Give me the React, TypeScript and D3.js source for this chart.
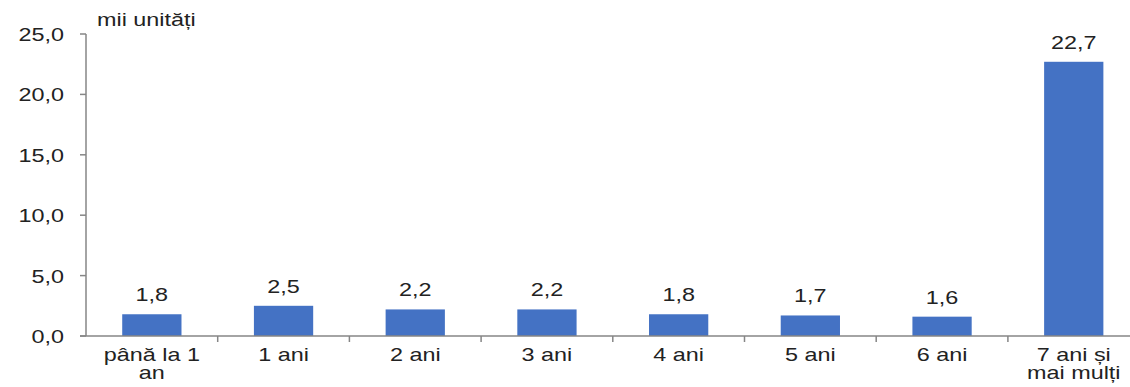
import React from "react";
import * as d3 from "d3";

const categories: string[][] = [
  ["până la 1", "an"],
  ["1 ani"],
  ["2 ani"],
  ["3 ani"],
  ["4 ani"],
  ["5 ani"],
  ["6 ani"],
  ["7 ani și", "mai mulți"],
];
const values: number[] = [1.8, 2.5, 2.2, 2.2, 1.8, 1.7, 1.6, 22.7];
const yTicks: number[] = [0, 5, 10, 15, 20, 25];
const unitLabel = "mii unități";

const W = 1130;
const H = 387;
const left = 86;
const step = 131.7;
const top = 34;
const bottom = 336;
const SX = 1.3;
const FONT = "Liberation Sans, Arial, sans-serif";
const FS = 18;

const fmt = (v: number) => v.toFixed(1).replace(".", ",");

function T({ x, y, anchor, children }: { x: number; y: number; anchor: string; children: React.ReactNode }) {
  return (
    <text
      transform={`translate(${x},${y}) scale(${SX},1)`}
      textAnchor={anchor}
      fontFamily={FONT}
      fontSize={FS}
      fill="#222"
    >
      {children}
    </text>
  );
}

export default function App() {
  const x = d3
    .scaleBand<number>()
    .domain(values.map((_, i) => i))
    .range([left, left + step * values.length])
    .paddingInner(0.55)
    .paddingOuter(0.275);
  const y = d3.scaleLinear().domain([0, 25]).range([bottom, top]);
  const axisColor = "#868686";

  return (
    <svg
      width={W}
      height={H}
      style={{ position: "absolute", left: 0, top: 0, background: "#fff" }}
    >
      {values.map((v, i) => (
        <rect
          key={i}
          x={x(i)}
          y={y(v)}
          width={x.bandwidth()}
          height={y(0) - y(v)}
          fill="#4472C4"
        />
      ))}
      {values.map((v, i) => (
        <T key={"l" + i} x={(x(i) as number) + x.bandwidth() / 2} y={y(v) - 13} anchor="middle">
          {fmt(v)}
        </T>
      ))}
      <line x1={left} x2={left} y1={top} y2={bottom} stroke={axisColor} strokeWidth={1.5} />
      <line x1={left - 6} x2={W} y1={bottom} y2={bottom} stroke={axisColor} strokeWidth={1.5} />
      {yTicks.map((t) => (
        <g key={"t" + t}>
          <line x1={left - 6} x2={left} y1={y(t)} y2={y(t)} stroke={axisColor} strokeWidth={1.5} />
          <T x={64} y={y(t) + 7} anchor="end">
            {fmt(t)}
          </T>
        </g>
      ))}
      {values.map((_, i) => (
        <line
          key={"xt" + i}
          x1={left + step * (i + 1)}
          x2={left + step * (i + 1)}
          y1={bottom}
          y2={bottom + 6}
          stroke={axisColor}
          strokeWidth={1.5}
        />
      ))}
      {categories.map((lines, i) => (
        <g key={"c" + i}>
          {lines.map((ln, j) => (
            <T key={j} x={(x(i) as number) + x.bandwidth() / 2} y={361 + j * 18} anchor="middle">
              {ln}
            </T>
          ))}
        </g>
      ))}
      <T x={97} y={26} anchor="start">
        {unitLabel}
      </T>
    </svg>
  );
}
